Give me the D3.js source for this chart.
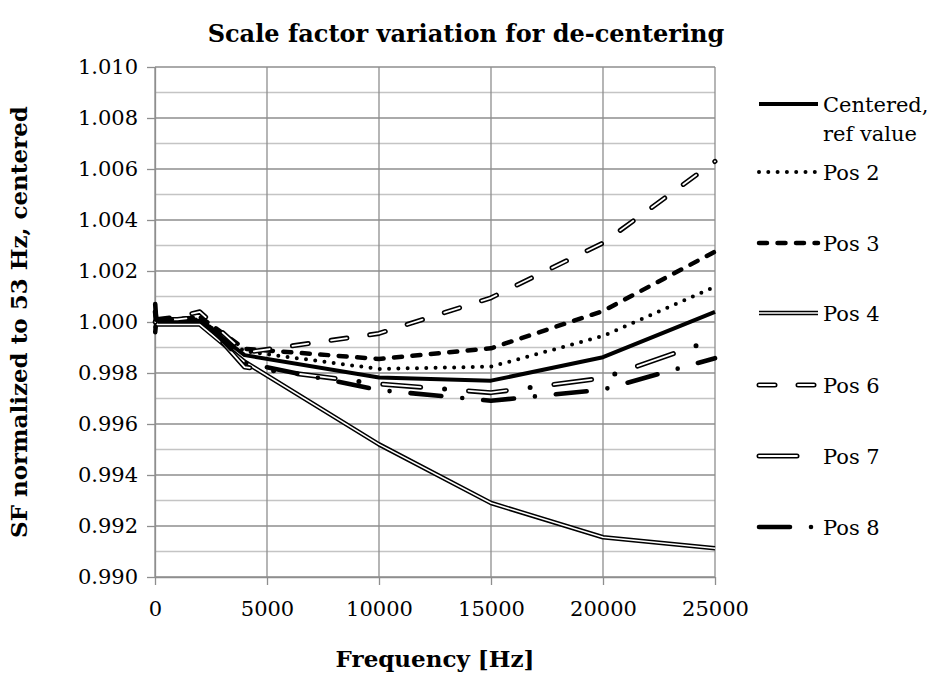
<!DOCTYPE html>
<html><head><meta charset="utf-8">
<script src="https://cdn.jsdelivr.net/npm/d3@7"></script>
<style>
body{margin:0;background:#fff}
svg{display:block}
text{font-family:"DejaVu Serif","Liberation Serif",serif;fill:#000}
</style>
</head><body>
<svg id="c" width="932" height="677"></svg>
<script>
// ---- data ----
const freqs    = [10, 53, 100, 1000, 2000, 4000, 10000, 15000, 20000, 25000];
const centered = [1.0003, 1.0000, 1.0000, 1.0000, 1.00005, 0.99870, 0.99782, 0.99770, 0.99862, 1.00040];
const pos2     = [0.9998, 1.0000, 1.0001, 1.0001, 1.00010, 0.99885, 0.99816, 0.99825, 0.99945, 1.00138];
const pos3     = [0.9996, 1.0000, 1.0000, 1.0001, 1.00020, 0.99895, 0.99855, 0.99897, 1.00043, 1.00276];
const pos4     = [1.0001, 1.0000, 0.9999, 0.9999, 0.99990, 0.99844, 0.99520, 0.99290, 0.99156, 0.99113];
const pos6     = [1.0000, 1.0001, 1.0001, 1.0002, 1.00040, 0.99880, 0.99955, 1.00095, 1.00310, 1.00630];
const pos7     = [1.0004, 1.0001, 1.0001, 1.0001, 1.00020, 0.99823, 0.99757, 0.99723, 0.99780, 0.99933];
const pos8     = [1.0007, 1.0001, 1.0001, 1.0001, 1.00020, 0.99840, 0.99733, 0.99691, 0.99735, 0.99858];
const seriesNames = [["Centered,", "ref value"], ["Pos 2"], ["Pos 3"], ["Pos 4"], ["Pos 6"], ["Pos 7"], ["Pos 8"]];
const yTicks = [0.990, 0.992, 0.994, 0.996, 0.998, 1.000, 1.002, 1.004, 1.006, 1.008, 1.010];
const xTicks = [0, 5000, 10000, 15000, 20000, 25000];
const title = "Scale factor variation for de-centering";
const xTitle = "Frequency [Hz]";
const yTitle = "SF normalized to 53 Hz, centered";

// ---- styles (one per series) ----
const styles = [
  {layers:[{w:4, dash:null, cap:"butt", c:"#000"}]},
  {layers:[{w:4, dash:"0,9.3", cap:"round", c:"#000"}]},
  {layers:[{w:4.5, dash:"8,10.5", cap:"round", c:"#000"}]},
  {layers:[{w:4.6, dash:null, cap:"butt", c:"#000"},{w:1.6, dash:null, cap:"butt", c:"#fff"}]},
  {layers:[{w:5, dash:"16,23", cap:"round", c:"#000"},{w:1.8, dash:"16,23", cap:"round", c:"#fff"}]},
  {layers:[{w:5, dash:"38,24,0,24", cap:"round", c:"#000"},{w:1.8, dash:"38,48", cap:"round", c:"#fff"}]},
  {layers:[{w:4.6, dash:"31,21,0,21", cap:"round", c:"#000"}]}
];
const allSeries = [centered, pos2, pos3, pos4, pos6, pos7, pos8];

const FONT = '"DejaVu Serif","Liberation Serif",serif';
const svg = d3.select("#c");
const L = 155, R = 715, T = 67, B = 577;
const x = d3.scaleLinear().domain([0, 25000]).range([L, R]);
const y = d3.scaleLinear().domain([0.990, 1.010]).range([B, T]);

// minor gridlines
const minor = d3.range(0.991, 1.010, 0.002);
svg.append("g").selectAll("line").data(minor).join("line")
  .attr("x1", L).attr("x2", R).attr("y1", d => y(d)).attr("y2", d => y(d))
  .attr("stroke", "#c4c4c4").attr("stroke-width", 1.3);
// major gridlines
svg.append("g").selectAll("line").data(yTicks).join("line")
  .attr("x1", L).attr("x2", R).attr("y1", d => y(d)).attr("y2", d => y(d))
  .attr("stroke", "#8e8e8e").attr("stroke-width", 1.3);
svg.append("g").selectAll("line").data(xTicks).join("line")
  .attr("x1", d => x(d)).attr("x2", d => x(d)).attr("y1", T).attr("y2", B)
  .attr("stroke", "#8e8e8e").attr("stroke-width", 1.3);

// axes
const yAxis = d3.axisLeft(y).tickValues(yTicks).tickFormat(d3.format(".3f")).tickSize(8).tickPadding(9);
const gy = svg.append("g").attr("transform", `translate(${L},0)`).call(yAxis);
const xAxis = d3.axisBottom(x).tickValues(xTicks).tickFormat(d3.format("d")).tickSize(8).tickPadding(16);
const gx = svg.append("g").attr("transform", `translate(0,${B})`).call(xAxis);
[gx, gy].forEach(g => {
  g.selectAll("path.domain").attr("stroke", "#8e8e8e").attr("stroke-width", 1.3);
  g.selectAll(".tick line").attr("stroke", "#8e8e8e").attr("stroke-width", 1.3);
  g.selectAll("text").attr("font-family", FONT).attr("font-size", 21).attr("fill", "#000");
});
gx.select("path.domain").attr("d", `M${L},0.5H${R}`);
gy.select("path.domain").attr("d", `M0.5,${T}V${B}`);

// lines
const line = d3.line().x(d => x(d[0])).y(d => y(d[1]));
allSeries.forEach((vals, i) => {
  const pts = freqs.map((f, j) => [f, vals[j]]);
  styles[i].layers.forEach(s => {
    svg.append("path").attr("d", line(pts)).attr("fill", "none")
      .attr("stroke", s.c).attr("stroke-width", s.w)
      .attr("stroke-dasharray", s.dash).attr("stroke-linecap", s.cap)
      .attr("stroke-linejoin", "round");
  });
});

// legend
const legY = [104, 172, 243, 313, 385, 456, 527];
seriesNames.forEach((nm, i) => {
  const g = svg.append("g");
  styles[i].layers.forEach(s => {
    g.append("line").attr("x1", 759).attr("x2", 818).attr("y1", legY[i]).attr("y2", legY[i])
      .attr("stroke", s.c).attr("stroke-width", s.w)
      .attr("stroke-dasharray", s.dash).attr("stroke-linecap", s.cap);
  });
  nm.forEach((t, k) => {
    g.append("text").attr("x", 823).attr("y", legY[i] + 8 + k * 29)
      .attr("font-size", 21).text(t);
  });
});

// titles
svg.append("text").attr("x", 466).attr("y", 42).attr("text-anchor", "middle")
  .attr("font-size", 24).attr("font-weight", "bold").text(title);
svg.append("text").attr("x", 435).attr("y", 667).attr("text-anchor", "middle")
  .attr("font-size", 23).attr("font-weight", "bold").text(xTitle);
svg.append("text").attr("transform", `translate(27,${(T + B) / 2}) rotate(-90)`)
  .attr("text-anchor", "middle").attr("font-size", 23).attr("font-weight", "bold").text(yTitle);
</script>
</body></html>
